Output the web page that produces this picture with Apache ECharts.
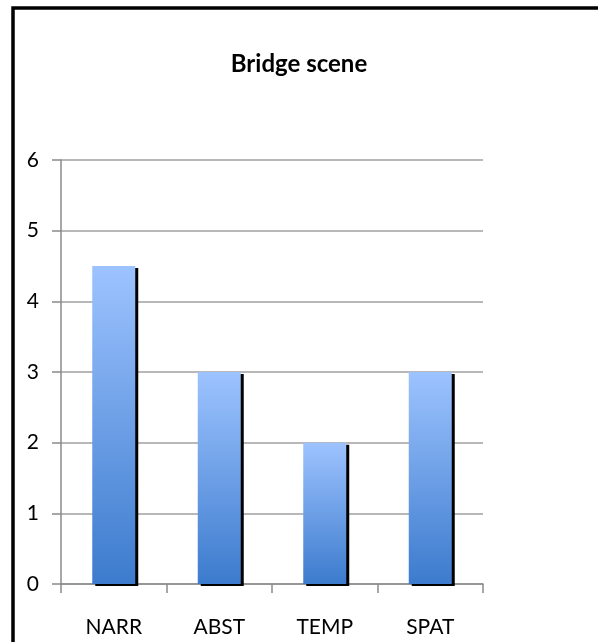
<!DOCTYPE html>
<html>
<head>
<meta charset="utf-8">
<script src="https://cdn.jsdelivr.net/npm/echarts@6/dist/echarts.min.js"></script>
<style>
  html, body { margin: 0; padding: 0; background: #fff; }
  #chart { width: 598px; height: 642px; }
</style>
</head>
<body>
<div id="chart"></div>
<script>
// Bridge scene: counts per category
const categories = ['NARR', 'ABST', 'TEMP', 'SPAT'];
const values = [4.5, 3, 2, 3];
const yTicks = { min: 0, max: 6, interval: 1 };

const chart = echarts.init(document.getElementById('chart'), null, { renderer: 'canvas' });

const font = 'Lato, "Open Sans", sans-serif';

chart.setOption({
  animation: false,
  backgroundColor: '#fff',
  title: {
    text: 'Bridge scene',
    left: 'center',
    top: 47,
    textStyle: { fontFamily: font, fontWeight: 'bold', fontSize: 24, color: '#000' }
  },
  graphic: [{
    type: 'rect',
    shape: { x: 13, y: 8, width: 800, height: 900 },
    style: { fill: 'none', stroke: '#000', lineWidth: 3.5 },
    silent: true,
    z: 100
  }],
  grid: { left: 61, right: 115, top: 160, bottom: 58, containLabel: false },
  xAxis: {
    type: 'category',
    data: categories,
    axisLine: { lineStyle: { color: '#8a8a8a', width: 1.5 } },
    axisTick: { show: true, length: 9, lineStyle: { color: '#8a8a8a', width: 1.5 } },
    axisLabel: { fontFamily: font, fontSize: 21, color: '#000', margin: 33 }
  },
  yAxis: {
    type: 'value',
    min: yTicks.min,
    max: yTicks.max,
    interval: yTicks.interval,
    axisLine: { show: true, lineStyle: { color: '#8a8a8a', width: 1.5 } },
    axisTick: { show: true, length: 9, lineStyle: { color: '#8a8a8a', width: 1.5 } },
    splitLine: { lineStyle: { color: '#a0a0a0', width: 1.5 } },
    axisLabel: { fontFamily: font, fontSize: 21, color: '#000', margin: 22 }
  },
  series: [{
    type: 'bar',
    data: values,
    barWidth: 43,
    itemStyle: {
      color: new echarts.graphic.LinearGradient(0, 0, 0, 1, [
        { offset: 0, color: '#9dc3ff' },
        { offset: 1, color: '#3c7bcd' }
      ]),
      shadowColor: '#000',
      shadowOffsetX: 3,
      shadowOffsetY: 2,
      shadowBlur: 0
    }
  }]
});
</script>
</body>
</html>
